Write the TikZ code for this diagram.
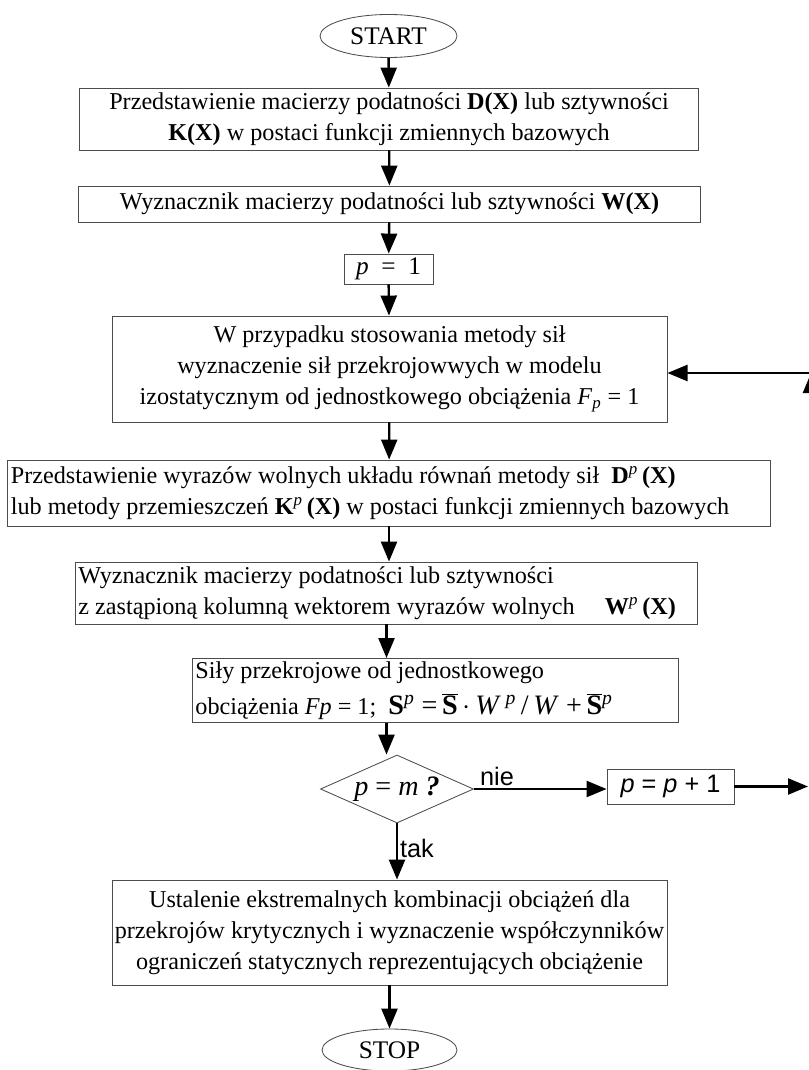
\documentclass[tikz,border=0pt]{standalone}
\usepackage{fontspec}
\setmainfont{Liberation Serif}
\newfontfamily\arialfont{Liberation Sans}
\usetikzlibrary{shapes.geometric,arrows.meta}

\begin{document}
\begin{tikzpicture}[x=0.025cm, y=-0.025cm, font=\fontsize{17.2}{22}\selectfont,
  box/.style={draw=black!70, line width=0.6pt, rectangle, inner sep=2pt},
  term/.style={draw=black!70, line width=0.6pt, ellipse, inner sep=0pt},
  decision/.style={draw=black!70, line width=0.6pt, diamond, inner sep=0pt, aspect=2.25},
  arr/.style={line width=1.7pt, -{Triangle[length=0.5cm, width=0.4cm]}},
  lbl/.style={font=\arialfont\fontsize{18}{20}\selectfont, inner sep=0pt}]
\useasboundingbox (0,0) rectangle (808,1070);

\node[term, minimum width=3.425cm, minimum height=1.075cm, font=\fontsize{18}{22}\selectfont] (start) at (388.5,36) {START};
\node[box, minimum width=15.45cm, minimum height=1.55cm, align=center] (model) at (389,119)
  {Przedstawienie macierzy podatności \textbf{D(X)} lub sztywności\\ \textbf{K(X)} w postaci funkcji zmiennych bazowych};
\node[box, minimum width=15.525cm, minimum height=0.9cm] (det) at (389.5,204)
  {Wyznacznik macierzy podatności lub sztywności \textbf{W(X)}};
\node[box, minimum width=2.225cm, minimum height=0.75cm, font=\fontsize{18}{22}\selectfont] (init) at (388.5,269)
  {\textit{p}\enspace=\enspace1};
\node[box, minimum width=13.875cm, minimum height=2.65cm, align=center] (unit) at (389.5,369)
  {W przypadku stosowania metody sił\\ wyznaczenie sił przekrojowwych w modelu\\
   izostatycznym od jednostkowego obciążenia \textit{F}\textsubscript{\textit{p}} = 1};
\node[box, minimum width=19.05cm, minimum height=1.65cm, text width=18.9cm, align=flush left] (rhs) at (389,493)
  {Przedstawienie wyrazów wolnych układu równań metody sił\ \ \textbf{D}\textsuperscript{\textit{p}}\,\textbf{(X)}\\
   lub metody przemieszczeń \textbf{K}\textsuperscript{\textit{p}}\,\textbf{(X)} w postaci funkcji zmiennych bazowych};
\node[box, minimum width=15.525cm, minimum height=1.55cm, text width=15.4cm, align=flush left] (rhsdet) at (386.5,593)
  {Wyznacznik macierzy podatności lub sztywności\\
   z zastąpioną kolumną wektorem wyrazów wolnych\quad\ \textbf{W}\textsuperscript{\textit{p}}\,\textbf{(X)}};
\node[box, minimum width=12.125cm, minimum height=1.575cm, text width=12cm, align=flush left] (forces) at (435.5,690.5)
  {Siły przekrojowe od jednostkowego\\[4pt]
   obciążenia \textit{Fp} = 1;\ \ {\fontsize{20}{22}\selectfont\textbf{S}\textsuperscript{\textit{p}}\ =\,$\overline{\mbox{\textbf{S}}}\,\cdot$\,\textit{W}\,\textsuperscript{\textit{p}}\,/\,\textit{W}\ +\,$\overline{\mbox{\textbf{S}}}$\textsuperscript{\textit{p}}}};
\node[decision, minimum width=3.825cm, minimum height=1.7cm, font=\fontsize{20}{22}\selectfont] (test) at (397,789)
  {\textit{p}\ =\ \textit{m}\ \textbf{\textit{?}}};
\node[box, minimum width=3.175cm, minimum height=0.875cm, font=\arialfont\fontsize{18}{20}\selectfont] (inc) at (670.5,786.5)
  {\textit{p} = \textit{p} + 1};
\node[box, minimum width=13.825cm, minimum height=2.625cm, align=center] (final) at (389.5,932.5)
  {Ustalenie ekstremalnych kombinacji obciążeń dla\\ przekrojów krytycznych i wyznaczenie współczynników\\
   ograniczeń statycznych reprezentujących obciążenie};
\node[term, minimum width=3.375cm, minimum height=1.05cm, font=\fontsize{18}{22}\selectfont] (stop) at (389.5,1050) {STOP};
\node[lbl] (nie) at (497,776) {nie};
\node[lbl] (tak) at (417,848) {tak};
\coordinate (outR) at (808,786.5);
\coordinate (loopB) at (811,786.5);
\coordinate (loopT) at (811,373);

\draw[arr] (start) -- (model);
\draw[arr] (model) -- (det);
\draw[arr] (det) -- (init);
\draw[arr] (init) -- (unit);
\draw[arr] (unit) -- (rhs);
\draw[arr] (rhs) -- (rhs |- rhsdet.north);
\draw[arr] (rhsdet) -- (rhsdet |- forces.north);
\draw[arr] (forces.south -| rhsdet) -- (rhsdet |- test.north);
\draw[arr] (test.east) -- (test.east -| inc.west);
\draw[arr] (test) -- (test |- final.north);
\draw[arr] (final) -- (stop);
\draw[arr] (inc) -- (outR);
\draw[arr] (loopB) -- (loopT);
\draw[arr] (loopT) -- (unit.east |- loopT);

\end{tikzpicture}
\end{document}
